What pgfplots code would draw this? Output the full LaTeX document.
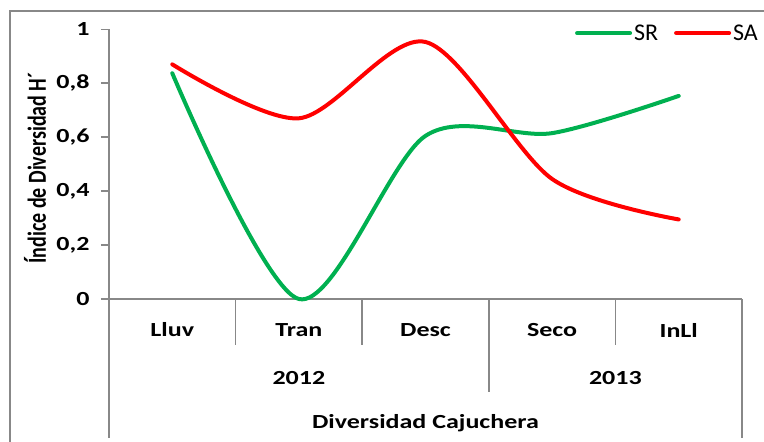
\documentclass[border=0pt]{standalone}
\usepackage{fontspec}
\setmainfont{Carlito}
\usepackage{graphicx}
\usepackage{pgfplots}
\pgfplotsset{compat=1.18}
\definecolor{axgray}{HTML}{888888}
\definecolor{srgreen}{HTML}{00B050}
\definecolor{sared}{HTML}{FF0000}
\newcommand{\wide}[1]{\scalebox{1.3}[1]{#1}}
\begin{document}
\begin{tikzpicture}[x=1pt,y=1pt]
\useasboundingbox (0,0) rectangle (764,-442);
\draw[axgray, line width=1.2pt] (10,-442) -- (10,-11) -- (764,-11);
\begin{axis}[
  at={(109pt,-299pt)}, anchor=south west,
  scale only axis, width=633pt, height=269.7pt,
  xmin=0.5, xmax=5.5, ymin=0, ymax=1,
  axis lines*=left,
  axis line style={axgray, line width=1.5pt},
  every outer x axis line/.append style={-},
  every outer y axis line/.append style={-},
  xtick=\empty,
  ytick={0,0.2,0.4,0.6,0.8,1},
  tick align=outside,
  major tick length=8pt,
  ytick style={axgray, line width=1.5pt},
  /pgf/number format/.cd, use comma, fixed, precision=1, assume math mode=true,
  /pgfplots/.cd,
  yticklabel={\wide{\pgfmathprintnumber{\tick}}},
  yticklabel style={font=\bfseries\fontsize{20}{20}\selectfont, anchor=east, xshift=-8pt},
  clip=false,
  legend columns=2,
  legend style={draw=none, fill=none, inner sep=0pt, at={(0.736,0.986)}, anchor=west,
    font=\fontsize{24}{24}\selectfont,
    /tikz/every even column/.append style={column sep=14pt}},
  legend image code/.code={\draw[#1, line width=4pt, line cap=round] (0pt,0pt) -- (53pt,0pt);},
  every axis plot/.append style={line width=4pt, line cap=round, smooth, tension=0.5},
]
\addplot[srgreen] coordinates {(1,0.837) (2,0.0) (3,0.605) (4,0.615) (5,0.753)};
\addlegendentry{SR}
\addplot[sared] coordinates {(1,0.870) (2,0.670) (3,0.953) (4,0.445) (5,0.295)};
\addlegendentry{SA}
% category axis separators
\draw[axgray, line width=1.5pt] (axis cs:0.5,0) -- ([yshift=-139pt]axis cs:0.5,0);
\draw[axgray, line width=1.5pt] (axis cs:5.5,0) -- ([yshift=-139pt]axis cs:5.5,0);
\draw[axgray, line width=1.5pt] (axis cs:1.5,0) -- ([yshift=-46pt]axis cs:1.5,0);
\draw[axgray, line width=1.5pt] (axis cs:2.5,0) -- ([yshift=-46pt]axis cs:2.5,0);
\draw[axgray, line width=1.5pt] (axis cs:4.5,0) -- ([yshift=-46pt]axis cs:4.5,0);
\draw[axgray, line width=1.5pt] (axis cs:3.5,0) -- ([yshift=-93pt]axis cs:3.5,0);
\begin{scope}[every node/.style={font=\bfseries\fontsize{20}{20}\selectfont}]
\node at ([yshift=-31pt]axis cs:1,0) {\wide{Lluv}};
\node at ([yshift=-31pt]axis cs:2,0) {\wide{Tran}};
\node at ([yshift=-31pt]axis cs:3,0) {\wide{Desc}};
\node at ([yshift=-31pt]axis cs:4,0) {\wide{Seco}};
\node at ([yshift=-31pt]axis cs:5,0) {\wide{InLl}};
\node at ([yshift=-79pt]axis cs:2,0) {\wide{2012}};
\node at ([yshift=-79pt]axis cs:4.5,0) {\wide{2013}};
\node at ([yshift=-124pt]axis cs:3,0) {\wide{Diversidad Cajuchera}};
\end{scope}
\end{axis}
\node[rotate=90, font=\bfseries\fontsize{20}{20}\selectfont] at (35,-168) {\scalebox{1}[1.3]{Índice de Diversidad H´}};
\end{tikzpicture}
\end{document}
